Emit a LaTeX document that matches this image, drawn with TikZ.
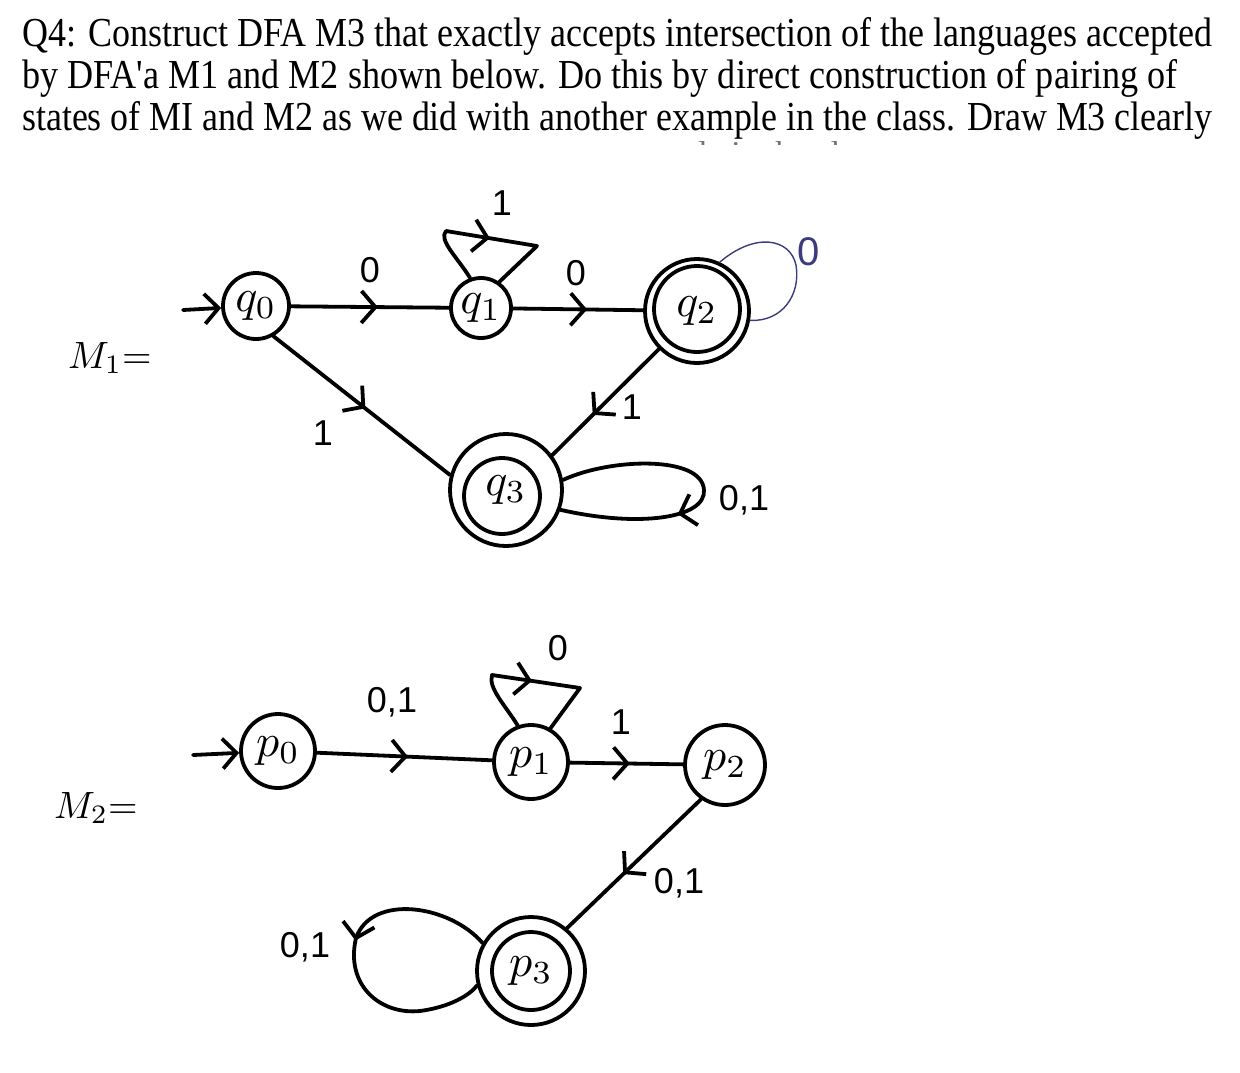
\documentclass[tikz,border=0pt]{standalone}
\usepackage{fontspec}
\setmainfont{Liberation Serif}
\newfontfamily\hand{Liberation Sans}
\usepackage{graphicx}
\usetikzlibrary{arrows.meta,decorations.markings}
\definecolor{navy}{RGB}{60,60,125}
\newcommand{\stlab}[1]{\scalebox{4.6}{$#1$}}
\newcommand{\mlab}[1]{\scalebox{3.8}{$#1$}}
\begin{document}
\begin{tikzpicture}[x=1pt,y=-1pt,
  state/.style={circle, draw, line width=3.8pt, inner sep=0pt},
  ring/.style={line width=3.8pt},
  edge/.style={line width=3.8pt, line cap=round, line join=round},
  thinedge/.style={line width=1.4pt, navy, line cap=round},
  lbl/.style={font=\hand\fontsize{36}{36}\selectfont, inner sep=0pt},
  mlbl/.style={inner sep=0pt, anchor=west},
  head/.style={anchor=base west, inner sep=0pt},
  startarr/.style={edge, -{Straight Barb[length=14pt,width=30pt]}},
  midarrow/.style={postaction={decorate}, decoration={markings, mark=at position #1 with {\arrow[line width=3.8pt]{Straight Barb[length=14pt,width=32pt]}}}}
]
\useasboundingbox (0,0) rectangle (1240,1072);
\fill[white] (0,0) rectangle (1240,1072);

% header text
\node[head] (h1) at (22,46) {\resizebox{1190pt}{29pt}{Q4: Construct DFA M3 that exactly accepts intersection of the languages accepted}};
\node[head] (h2) at (22,88) {\resizebox{1155pt}{29pt}{by DFA\textquotesingle a M1 and M2 shown below. Do this by direct construction of pairing of}};
\node[head] (h3) at (22,130) {\resizebox{1190pt}{29pt}{states of MI and M2 as we did with another example in the class. Draw M3 clearly}};
\begin{scope}
  \clip (645,136) rectangle (850,144);
  \node[head, text=black!55] (h4) at (640,163) {\resizebox{215pt}{22pt}{ample in the cla}};
\end{scope}

% ---------- M1 ----------
\node[mlbl] (m1) at (68,358) {\mlab{M_{1}{=}}};

\node[state, minimum size=66pt] (q0) at (256,306) {\stlab{q_0}};
\node[state, minimum size=60pt] (q1) at (481,308) {\stlab{q_1}};
\node[state, minimum size=104pt] (q2) at (697,311) {\stlab{q_2}};
\draw[ring] (697,309) circle[radius=43];
\node[state, minimum size=112pt] (q3) at (506,490) {\stlab{q_3}};
\draw[ring] (502,496) circle[radius=38];

\coordinate (s1) at (183,310);
\draw[startarr] (s1) -- (q0);

\draw[edge, midarrow=0.55] (q0) -- (q1);
\draw[edge, midarrow=0.57] (q1) -- (q2);
\draw[edge, midarrow=0.52] (q0.-60) -- (q3.165);
\draw[edge, midarrow=0.62] (q2.-135) -- (q3.37);

% self loops
\draw[edge, midarrow=0.5] (q1.110) .. controls (458,258) and (438,240) .. (446,231) -- (537,246) -- (q1.55);
\draw[edge, midarrow=0.62] (q3.10) .. controls (610,458) and (702,455) .. (704,490) .. controls (706,518) and (640,528) .. (q3.-20);
\draw[thinedge] (q2.65) .. controls (755,232) and (790,238) .. (796,265) .. controls (801,295) and (782,322) .. (q2.-10);

% labels
\node[lbl] (l1) at (502,203) {1};
\node[lbl] (l2) at (370,270) {0};
\node[lbl] (l3) at (576,273) {0};
\node[lbl] (l4) at (323,433) {1};
\node[lbl] (l5) at (632,407) {1};
\node[lbl] (l6) at (744,500) {0,1};
\node[lbl, text=navy, font=\hand\fontsize{40}{40}\selectfont] (l7) at (809,252) {0};

% ---------- M2 ----------
\node[mlbl] (m2) at (54,808) {\mlab{M_{2}{=}}};

\node[state, minimum size=74pt] (p0) at (278,751) {\stlab{p_0}};
\node[state, minimum size=74pt] (p1) at (531,762) {\stlab{p_1}};
\node[state, minimum size=80pt] (p2) at (725,765) {\stlab{p_2}};
\node[state, minimum size=108pt] (p3) at (531,971) {\stlab{p_3}};
\draw[ring] (531,971) circle[radius=39];

\coordinate (s2) at (193,755);
\draw[startarr] (s2) -- (p0);

\draw[edge, midarrow=0.52] (p0) -- (p1);
\draw[edge, midarrow=0.53] (p1) -- (p2);
\draw[edge, midarrow=0.58] (p2.-125) -- (p3.50);

\draw[edge, midarrow=0.5] (p1.110) .. controls (505,705) and (488,688) .. (492,675) -- (580,688) -- (p1.60);
\draw[edge, midarrow=0.46] (p3.150) .. controls (450,905) and (372,893) .. (356,938) .. controls (345,985) and (380,1015) .. (420,1011) .. controls (450,1007) and (470,995) .. (p3.195);

\node[lbl] (k1) at (392,702) {0,1};
\node[lbl] (k2) at (558,648) {0};
\node[lbl] (k3) at (621,722) {1};
\node[lbl] (k4) at (679,883) {0,1};
\node[lbl] (k5) at (305,947) {0,1};
\end{tikzpicture}
\end{document}
